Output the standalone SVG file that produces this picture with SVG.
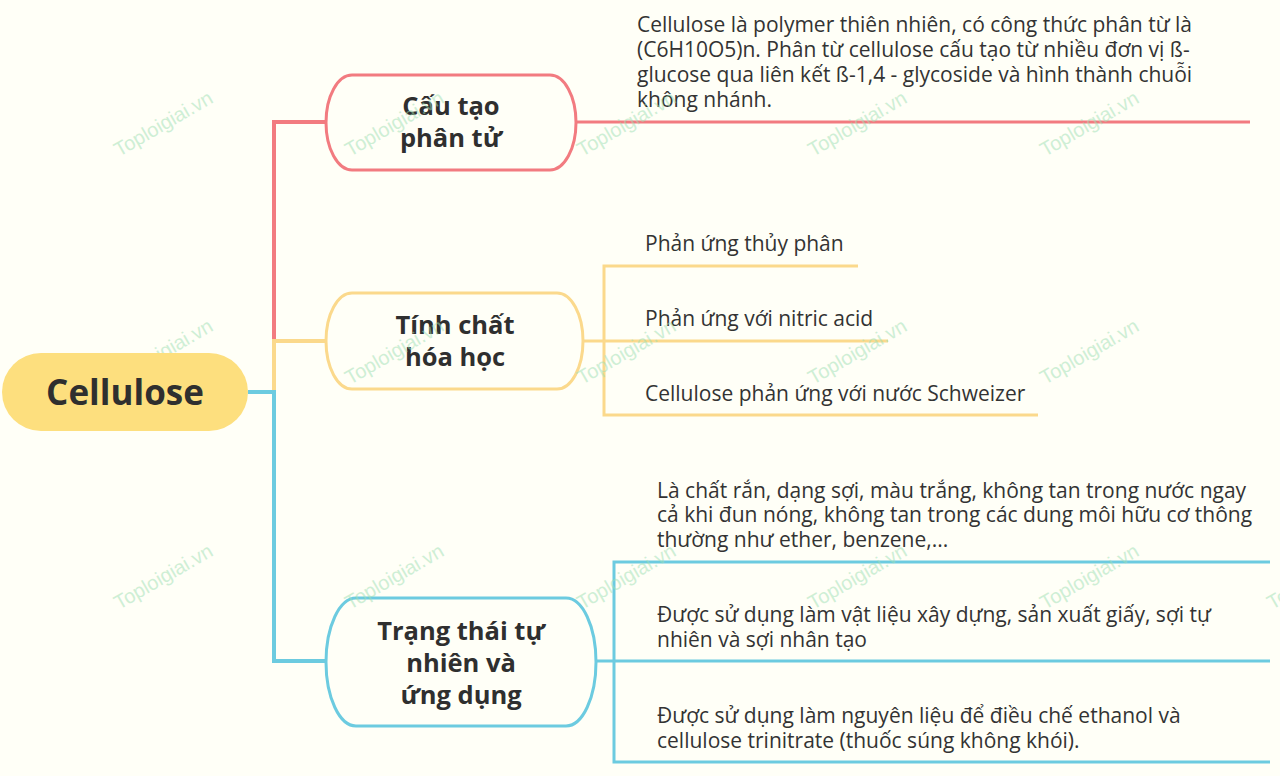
<svg xmlns="http://www.w3.org/2000/svg" width="1280" height="776" viewBox="0 0 1280 776">
<style>
.bg{fill:#fffff7}
.node{font-family:"Open Sans","Noto Sans",sans-serif;font-weight:700;fill:#2f2f2f;text-anchor:middle}
.leaf{font-family:"Open Sans","Noto Sans",sans-serif;font-size:21px;fill:#333}
.red{stroke:#f27b80;fill:none}
.yel{stroke:#fbd98c;fill:none}
.blu{stroke:#6ccbe0;fill:none}
.wm{font-family:"Liberation Sans",Arial,sans-serif;font-size:20px;fill:#9fe0b4;opacity:0.5}
</style>
<rect class="bg" x="0" y="0" width="1280" height="776"/>
<g id="watermark-under-root">
  <text class="wm" transform="translate(119 385) rotate(-30)">Toploigiai.vn</text>
</g>
<g id="connectors">
  <path class="red" stroke-width="4" d="M274 343 V122 H326"/>
  <path class="yel" stroke-width="4" d="M274 392 V341 H326"/>
  <path class="blu" stroke-width="4" d="M248 392 H274 V661 H326"/>
  <path class="red" stroke-width="3" d="M576 122 H1250"/>
  <path class="yel" stroke-width="3" d="M583 341 H604 M858 266 H604 V415 H1038 M604 341 H888"/>
  <path class="blu" stroke-width="3" d="M596 661 H614 M1270 562 H614 V762 H1270 M614 661 H1270"/>
</g>
<g id="root">
  <rect x="2" y="353" width="246" height="78" rx="39" ry="39" fill="#fddf7e"/>
  <text class="node" x="125" y="405" font-size="35">Cellulose</text>
</g>
<g id="n1">
  <rect class="red" stroke-width="3" x="326" y="75" width="250" height="95" rx="26" ry="47.5" style="fill:#fffff7"/>
  <text class="node" font-size="25.5"><tspan x="451" y="115">Cấu tạo</tspan><tspan x="451" y="147">phân tử</tspan></text>
</g>
<g id="n1text">
  <text class="leaf"><tspan x="637" y="32">Cellulose là polymer thiên nhiên, có công thức phân từ là</tspan><tspan x="637" y="57">(C6H10O5)n. Phân từ cellulose cấu tạo từ nhiều đơn vị ß-</tspan><tspan x="637" y="82">glucose qua liên kết ß-1,4 - glycoside và hình thành chuỗi</tspan><tspan x="637" y="107">không nhánh.</tspan></text>
</g>
<g id="n2">
  <rect class="yel" stroke-width="3" x="326" y="293" width="257" height="96" rx="26" ry="48" style="fill:#fffff7"/>
  <text class="node" font-size="25.5"><tspan x="455" y="334">Tính chất</tspan><tspan x="455" y="366">hóa học</tspan></text>
</g>
<g id="n2a"><text class="leaf" x="645" y="251">Phản ứng thủy phân</text></g>
<g id="n2b"><text class="leaf" x="645" y="326">Phản ứng với nitric acid</text></g>
<g id="n2c"><text class="leaf" x="645" y="401">Cellulose phản ứng với nước Schweizer</text></g>
<g id="n3">
  <rect class="blu" stroke-width="3" x="326" y="598" width="270" height="128" rx="30" ry="64" style="fill:#fffff7"/>
  <text class="node" font-size="25.5"><tspan x="461" y="640">Trạng thái tự</tspan><tspan x="461" y="672">nhiên và</tspan><tspan x="461" y="704">ứng dụng</tspan></text>
</g>
<g id="n3a"><text class="leaf"><tspan x="657" y="498">Là chất rắn, dạng sợi, màu trắng, không tan trong nước ngay</tspan><tspan x="657" y="522">cả khi đun nóng, không tan trong các dung môi hữu cơ thông</tspan><tspan x="657" y="547">thường như ether, benzene,...</tspan></text></g>
<g id="n3b"><text class="leaf"><tspan x="657" y="622">Được sử dụng làm vật liệu xây dựng, sản xuất giấy, sợi tự</tspan><tspan x="657" y="647">nhiên và sợi nhân tạo</tspan></text></g>
<g id="n3c"><text class="leaf"><tspan x="657" y="723">Được sử dụng làm nguyên liệu để điều chế ethanol và</tspan><tspan x="657" y="748">cellulose trinitrate (thuốc súng không khói).</tspan></text></g>
<g id="watermarks">
  <text class="wm" transform="translate(119 157) rotate(-30)">Toploigiai.vn</text>
  <text class="wm" transform="translate(350 157) rotate(-30)">Toploigiai.vn</text>
  <text class="wm" transform="translate(582 157) rotate(-30)">Toploigiai.vn</text>
  <text class="wm" transform="translate(813 157) rotate(-30)">Toploigiai.vn</text>
  <text class="wm" transform="translate(1045 157) rotate(-30)">Toploigiai.vn</text>
  <text class="wm" transform="translate(350 385) rotate(-30)">Toploigiai.vn</text>
  <text class="wm" transform="translate(582 385) rotate(-30)">Toploigiai.vn</text>
  <text class="wm" transform="translate(813 385) rotate(-30)">Toploigiai.vn</text>
  <text class="wm" transform="translate(1045 385) rotate(-30)">Toploigiai.vn</text>
  <text class="wm" transform="translate(119 610) rotate(-30)">Toploigiai.vn</text>
  <text class="wm" transform="translate(350 610) rotate(-30)">Toploigiai.vn</text>
  <text class="wm" transform="translate(582 610) rotate(-30)">Toploigiai.vn</text>
  <text class="wm" transform="translate(813 610) rotate(-30)">Toploigiai.vn</text>
  <text class="wm" transform="translate(1045 610) rotate(-30)">Toploigiai.vn</text>
  <text class="wm" transform="translate(1272 610) rotate(-30)">Toploigiai.vn</text>
</g>
</svg>
